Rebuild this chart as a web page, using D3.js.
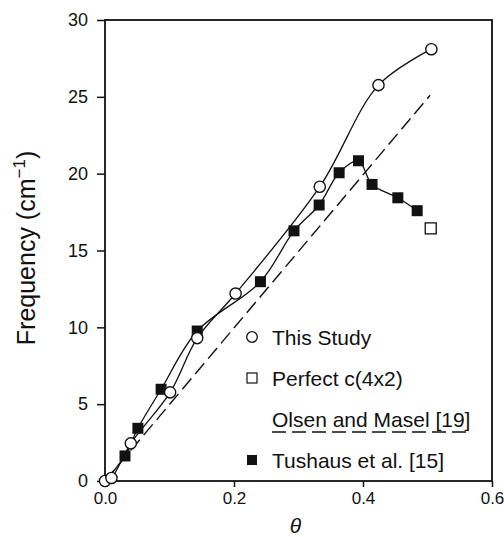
<!DOCTYPE html>
<html>
<head>
<meta charset="utf-8">
<script src="https://cdn.jsdelivr.net/npm/d3@7"></script>
<style>
  body { margin: 0; background: #fff; }
  text { font-family: "Liberation Sans", Arial, sans-serif; fill: #111; }
</style>
</head>
<body>
<div id="chart"></div>
<script>
// This Study (open circles)
var studyTheta = [0, 0.010, 0.040, 0.101, 0.143, 0.2025, 0.333, 0.424, 0.506];
var studyFreq  = [0, 0.2, 2.45, 5.77, 9.3, 12.2, 19.15, 25.76, 28.1];

// Tushaus et al. [15] (filled squares)
var tushausTheta = [0.031, 0.051, 0.087, 0.143, 0.241, 0.293, 0.332, 0.363, 0.393, 0.414, 0.454, 0.484];
var tushausFreq  = [1.63, 3.43, 5.97, 9.76, 12.97, 16.28, 17.96, 20.06, 20.84, 19.3, 18.43, 17.59];

// Perfect c(4x2) (open square)
var perfectTheta = [0.505];
var perfectFreq  = [16.44];

// Olsen and Masel [19] (dashed)
var olsenTheta = [0, 0.504];
var olsenFreq  = [0, 25.1];

var xTicks = [0, 0.2, 0.4, 0.6];
var yTicks = [0, 5, 10, 15, 20, 25, 30];

var legendLabels = ["This Study", "Perfect c(4x2)", "Olsen and Masel [19]", "Tushaus et al. [15]"];

var width = 504, height = 537;
var plotLeft = 105, plotRight = 492, plotTop = 20, plotBottom = 481;

var svg = d3.select("#chart").append("svg")
  .attr("width", width)
  .attr("height", height);

var x = d3.scaleLinear().domain([0, 0.6]).range([plotLeft, plotRight]);
var y = d3.scaleLinear().domain([0, 30]).range([plotBottom, plotTop]);

function zip(a, b) { return a.map(function(d, i){ return [d, b[i]]; }); }

var study = zip(studyTheta, studyFreq);
var tushaus = zip(tushausTheta, tushausFreq);
var perfect = zip(perfectTheta, perfectFreq);
var olsen = zip(olsenTheta, olsenFreq);

// AXES
var yAxis = svg.append("g")
  .attr("transform", "translate(" + plotLeft + ",0)")
  .call(d3.axisLeft(y).tickValues(yTicks).tickSize(8).tickPadding(9).tickFormat(d3.format("d")));
var xAxis = svg.append("g")
  .attr("transform", "translate(0," + plotBottom + ")")
  .call(d3.axisBottom(x).tickValues(xTicks).tickSize(6).tickPadding(5).tickFormat(d3.format(".1f")));

[xAxis, yAxis].forEach(function(a){
  a.select(".domain").remove();
  a.selectAll("line").attr("stroke", "#111").attr("stroke-width", 1.5);
  a.selectAll("text").attr("font-family", "Liberation Sans, Arial, sans-serif").attr("fill", "#111");
});
yAxis.selectAll("text").attr("font-size", 18);
xAxis.selectAll("text").attr("font-size", 17);

// frame
svg.append("rect")
  .attr("x", plotLeft).attr("y", plotTop)
  .attr("width", plotRight - plotLeft).attr("height", plotBottom - plotTop)
  .attr("fill", "none").attr("stroke", "#111").attr("stroke-width", 1.8);

// LINES
var smooth = d3.line()
  .x(function(d){ return x(d[0]); })
  .y(function(d){ return y(d[1]); })
  .curve(d3.curveCatmullRom.alpha(0.5));

svg.append("path")
  .attr("d", smooth(olsen))
  .attr("fill", "none").attr("stroke", "#111").attr("stroke-width", 1.4)
  .attr("stroke-dasharray", "14,6");

svg.append("path")
  .attr("d", smooth(study))
  .attr("fill", "none").attr("stroke", "#111").attr("stroke-width", 1.3);

svg.append("path")
  .attr("d", smooth([study[0]].concat(tushaus)))
  .attr("fill", "none").attr("stroke", "#111").attr("stroke-width", 1.3);

// MARKERS
var sq = 11;
svg.selectAll(".tushaus")
  .data(tushaus).enter()
  .append("rect")
  .attr("class", "tushaus")
  .attr("x", function(d){ return x(d[0]) - sq/2; })
  .attr("y", function(d){ return y(d[1]) - sq/2; })
  .attr("width", sq).attr("height", sq)
  .attr("fill", "#111");

svg.selectAll(".study")
  .data(study).enter()
  .append("circle")
  .attr("class", "study")
  .attr("cx", function(d){ return x(d[0]); })
  .attr("cy", function(d){ return y(d[1]); })
  .attr("r", 5.6)
  .attr("fill", "#fff").attr("stroke", "#111").attr("stroke-width", 1.4);

svg.selectAll(".perfect")
  .data(perfect).enter()
  .append("rect")
  .attr("class", "perfect")
  .attr("x", function(d){ return x(d[0]) - sq/2; })
  .attr("y", function(d){ return y(d[1]) - sq/2; })
  .attr("width", sq).attr("height", sq)
  .attr("fill", "#fff").attr("stroke", "#111").attr("stroke-width", 1.3);

// LEGEND
var legX = 252, textX = 272;
var legY = [337, 378, 419, 460];
var legend = svg.append("g");

legend.append("circle")
  .attr("cx", legX).attr("cy", legY[0]).attr("r", 5.3)
  .attr("fill", "#fff").attr("stroke", "#111").attr("stroke-width", 1.3);
legend.append("rect")
  .attr("x", legX - 5).attr("y", legY[1] - 5).attr("width", 10).attr("height", 10)
  .attr("fill", "#fff").attr("stroke", "#111").attr("stroke-width", 1.2);
legend.append("rect")
  .attr("x", legX - 5).attr("y", legY[3] - 5).attr("width", 10).attr("height", 10)
  .attr("fill", "#111");

legend.selectAll("text")
  .data(legendLabels).enter()
  .append("text")
  .attr("x", textX)
  .attr("y", function(d, i){ return legY[i] + 8; })
  .attr("font-size", 21)
  .text(function(d){ return d; });

legend.append("line")
  .attr("x1", textX).attr("x2", 467)
  .attr("y1", legY[2] + 13).attr("y2", legY[2] + 13)
  .attr("stroke", "#111").attr("stroke-width", 1.4)
  .attr("stroke-dasharray", "14,6");

// AXIS TITLES
svg.append("text")
  .attr("x", (plotLeft + plotRight) / 2 - 3)
  .attr("y", 533)
  .attr("text-anchor", "middle")
  .attr("font-size", 21)
  .attr("font-style", "italic")
  .text("\u03B8");

var yTitle = svg.append("text")
  .attr("transform", "translate(35,248) rotate(-90)")
  .attr("text-anchor", "middle")
  .attr("font-size", 25);
yTitle.append("tspan").text("Frequency (cm");
yTitle.append("tspan").attr("dy", -10).attr("font-size", 17).text("\u22121");
yTitle.append("tspan").attr("dy", 10).text(")");
</script>
</body>
</html>
